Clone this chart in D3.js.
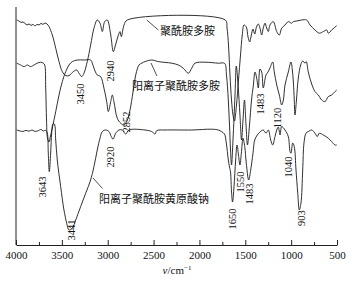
<!DOCTYPE html>
<html>
<head>
<meta charset="utf-8">
<script src="https://cdn.jsdelivr.net/npm/d3@7"></script>
<style>
  body { margin: 0; background: #fff; }
</style>
</head>
<body>
<svg id="chart"></svg>
<script>
const width = 354;
const height = 281;

// [波数 cm-1, 透过率(相对)]
const paa = [
  [3992,112.5],[3967,112],[3945,111.3],[3924,111.5],[3902,110.8],[3880,110],[3858,110.5],[3836,109.8],
  [3815,110.3],[3793,109.5],[3771,110.3],[3749,110],[3727,110.8],[3706,110.3],[3684,111],[3662,110.5],
  [3640,109.2],[3604,105],[3567,98.4],[3531,91.7],[3495,86.7],[3458,84.7],[3422,84.7],[3375,86.7],
  [3338,87.5],[3313,85.9],[3284,84.2],[3259,85.9],[3223,91.7],[3186,100],[3150,108.4],[3114,112.5],
  [3084,110.9],[3059,106.7],[3033,111.7],[3005,112.5],[2967,105],[2939,96.7],[2915,100],[2890,104],
  [2866,106.7],[2852,104.2],[2822,110],[2786,112.5],[1718,112.5],[1699,108.5],[1683,100],[1667,85],
  [1650,72.5],[1634,65],[1618,62],[1596,70],[1574,82.5],[1552,95],[1533,105],[1514,110],[1489,109],
  [1470,104],[1452,101.5],[1434,105],[1416,108],[1397,105.5],[1378,109],[1358,110.5],[1340,108.5],
  [1321,105],[1304,108.5],[1285,110.9],[1267,108.5],[1249,106.7],[1231,110],[1195,111.7],[1157,106.7],
  [1129,105],[1103,108.4],[1067,110],[1031,111.7],[994,110.9],[976,111.7],[939,112],[885,112.5],
  [830,112.5],[794,110],[740,107.5],[693,105.9],[649,106.7],[612,107.5],[595,105.9],[558,107.5],[503,109.7]
];

const cpaa = [
  [3992,90.9],[3949,90],[3913,89.2],[3877,90],[3840,89.2],[3804,90],[3768,90.9],[3731,91.4],[3702,90.9],
  [3687,90],[3676,78.5],[3667,62.5],[3657,53.5],[3640,51.5],[3624,54.5],[3604,58.5],[3567,66.7],[3531,75],
  [3495,81.7],[3458,86.7],[3422,90],[3386,91.7],[3332,92.5],[3259,92.5],[3186,92.5],[3168,90.9],[3150,88.4],
  [3114,85],[3077,84.2],[3041,78.4],[3011,71.7],[2994,66.7],[2967,71.7],[2950,75],[2932,71.7],[2896,63.4],
  [2858,60.9],[2822,60],[2790,62],[2757,67.5],[2724,76.5],[2692,85.5],[2659,90],[2626,91],[2593,91.7],
  [2520,92.5],[2448,91.7],[2302,90.9],[2230,90],[2176,88.4],[2121,85.9],[2084,88.4],[2048,90.9],[1939,91.4],
  [1794,90.9],[1725,90.8],[1705,85],[1685,72.5],[1672,60],[1661,47.5],[1650,40],[1634,52.5],[1612,75],
  [1598,89.5],[1579,80],[1558,65],[1541,52.5],[1525,62.5],[1509,72.5],[1492,60],[1476,50],[1454,60],
  [1432,72.5],[1413,79.5],[1394,86.5],[1376,83.5],[1358,78.5],[1340,88],[1321,86.5],[1304,78.5],[1274,85],
  [1252,86.5],[1231,88.5],[1201,91.5],[1184,86.5],[1157,80],[1129,75],[1103,70],[1085,72.5],[1067,80],
  [1031,86.5],[1002,91.5],[987,87.5],[976,81.5],[966,72.5],[958,65],[942,72.5],[922,83.5],[896,90],
  [874,92],[849,90.9],[835,91.7],[813,86.5],[776,80.5],[740,76.7],[704,75],[667,72.5],[631,71.7],
  [595,74.2],[558,75],[522,76.7],[503,77.5]
];

const cpaxa = [
  [3992,57.5],[3956,57],[3924,56.8],[3891,57.3],[3858,56.9],[3826,57.5],[3793,56.8],[3760,57.1],[3727,57.8],
  [3706,57],[3676,57.3],[3659,56],[3648,46],[3637,36.7],[3622,46],[3611,56],[3597,60.5],[3582,60.5],
  [3567,52.5],[3550,42.5],[3513,29.2],[3477,17.5],[3447,10.9],[3422,7.5],[3386,8.4],[3349,12.5],[3295,19.2],
  [3240,25.9],[3186,32.5],[3150,39.2],[3114,47.5],[3084,53.4],[3059,56.7],[3022,57.5],[2986,56.7],[2961,54.2],
  [2942,52.9],[2913,55.9],[2877,57.5],[2841,57.5],[2804,55.5],[2768,57.5],[2593,57.5],[2520,56.7],[2484,55.5],
  [2466,57.2],[2375,57.5],[2084,57.5],[1866,57.9],[1794,57.5],[1759,56.7],[1727,55.5],[1707,51],[1685,42.5],
  [1672,39],[1661,36.5],[1650,26.5],[1639,21.5],[1623,29.2],[1605,42.5],[1590,50],[1572,44.2],[1558,40],
  [1543,45.9],[1525,53.4],[1506,49.2],[1489,40.9],[1463,32.5],[1441,37.5],[1416,45.9],[1397,52.5],[1369,55],
  [1340,56.5],[1304,57.5],[1274,55.9],[1249,57.5],[1223,52.5],[1201,50],[1176,54.2],[1157,57.5],[1140,59],
  [1121,55],[1103,59.2],[1067,57.5],[1031,54.2],[1012,46.7],[1002,45.9],[983,51],[966,49.2],[947,37.5],
  [928,25.9],[911,17.5],[893,20.9],[874,37.5],[860,51],[838,55.9],[813,56.7],[776,57.5],[740,55.9],
  [715,54.2],[693,55.9],[649,55],[595,53.4],[558,51.7],[522,50],[503,50]
];

const xTicks = [4000, 3500, 3000, 2500, 2000, 1500, 1000, 500];
const xMinorTicks = [3750, 3250, 2750, 2250, 1750, 1250, 750];

// 峰位标注: [文字, 波数, 透过率]
const peakLabels = [
  ["3450", 3302, 75.5], ["2940", 2975, 87], ["2852", 2790, 61.5],
  ["1483", 1329, 70.5], ["1120", 1154, 63.5],
  ["3643", 3706, 29], ["3441", 3400, 7.5], ["2920", 2975, 44],
  ["1650", 1634, 13], ["1550", 1547, 31.5], ["1483", 1449, 25.5],
  ["1040", 1034, 39], ["903", 892, 13.5]
];

// 曲线名称: [文字, 起点波数, 透过率, 引线起点, 引线终点]
const seriesLabels = [
  ["聚酰胺多胺", 2430, 107.5, [2448, 107.5], [2574, 112.5]],
  ["阳离子聚酰胺多胺", 2735, 80, [2463, 84.5], [2528, 91]],
  ["阳离子聚酰胺黄原酸钠", 3095, 23.5, [3057, 28.25], [3160, 33.5]]
];

const svg = d3.select("#chart")
  .attr("width", width)
  .attr("height", height);

const x = d3.scaleLinear().domain([4000, 500]).range([16, 337]);
const y = d3.scaleLinear().domain([0, 119]).range([245, 7]);

const line = d3.line()
  .x(d => x(d[0]))
  .y(d => y(d[1]))
  .curve(d3.curveCatmullRom.alpha(0.5));

[paa, cpaa, cpaxa].forEach(s => {
  svg.append("path")
    .datum(s)
    .attr("fill", "none")
    .attr("stroke", "#1a1a1a")
    .attr("stroke-width", 0.9)
    .attr("d", line);
});

// 坐标轴
const xAxis = svg.append("g")
  .attr("transform", `translate(0,${y(0)})`)
  .call(d3.axisBottom(x).tickValues(xTicks).tickSizeInner(-5).tickSizeOuter(0).tickPadding(6).tickFormat(d3.format("d")));
xAxis.select(".domain").attr("stroke", "#222");
xAxis.selectAll(".tick line").attr("stroke", "#222");
xAxis.selectAll("text")
  .style("font-family", "'Liberation Serif', 'Times New Roman', serif")
  .style("font-size", "11px")
  .attr("fill", "#111");

svg.append("g")
  .attr("transform", `translate(0,${y(0)})`)
  .call(d3.axisBottom(x).tickValues(xMinorTicks).tickSizeInner(-3).tickSizeOuter(0).tickFormat(""))
  .call(g => g.select(".domain").remove())
  .selectAll(".tick line").attr("stroke", "#222");

svg.append("line")
  .attr("x1", x(4000)).attr("x2", x(4000))
  .attr("y1", y(0)).attr("y2", y(119))
  .attr("stroke", "#222");

// x轴标题
const xt = svg.append("text")
  .attr("x", 177)
  .attr("y", 274)
  .attr("text-anchor", "middle")
  .style("font-family", "'Liberation Serif', 'Times New Roman', serif")
  .style("font-size", "11px")
  .attr("fill", "#111");
xt.append("tspan").style("font-style", "italic").text("v");
xt.append("tspan").text("/cm");
xt.append("tspan").attr("dy", -4).style("font-size", "7px").text("−1");

// 峰位标注
svg.selectAll("text.peak")
  .data(peakLabels)
  .enter().append("text")
  .attr("class", "peak")
  .attr("transform", d => `translate(${x(d[1])},${y(d[2])}) rotate(-90)`)
  .attr("text-anchor", "middle")
  .attr("dominant-baseline", "central")
  .style("font-family", "'Liberation Serif', 'Times New Roman', serif")
  .style("font-size", "10.5px")
  .attr("fill", "#111")
  .text(d => d[0]);

// 曲线名称及引线
seriesLabels.forEach(d => {
  svg.append("line")
    .attr("x1", x(d[3][0])).attr("y1", y(d[3][1]))
    .attr("x2", x(d[4][0])).attr("y2", y(d[4][1]))
    .attr("stroke", "#222")
    .attr("stroke-width", 0.8);
  svg.append("text")
    .attr("x", x(d[1]))
    .attr("y", y(d[2]))
    .attr("dominant-baseline", "central")
    .style("font-family", "'Noto Sans CJK SC', sans-serif")
    .style("font-size", "11px")
    .attr("fill", "#111")
    .text(d[0]);
});
</script>
</body>
</html>
